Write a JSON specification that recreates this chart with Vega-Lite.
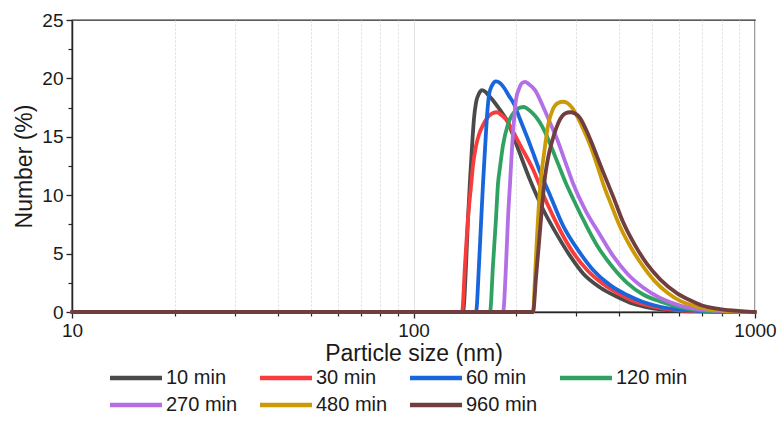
{
  "$schema": "https://vega.github.io/schema/vega-lite/v6.json",
  "autosize": "none",
  "width": 683,
  "height": 292,
  "padding": {"left": 72, "top": 20, "right": 24, "bottom": 128},
  "background": "white",
  "config": {
    "view": {"stroke": "#262626", "strokeWidth": 1.3},
    "font": "Liberation Sans",
    "axis": {"labelFont": "Liberation Sans", "titleFont": "Liberation Sans", "labelColor": "#1a1a1a", "titleColor": "#1a1a1a", "titleFontWeight": "normal", "domainColor": "#262626", "tickColor": "#262626", "domainWidth": 1.5, "tickWidth": 1.3},
    "legend": {"labelFont": "Liberation Sans"}
  },
  "datasets": {
    "psd": [
      {"t": "10 min", "d": 10, "n": 0}, {"t": "10 min", "d": 139.6, "n": 0}, {"t": "10 min", "d": 142.5, "n": 4}, {"t": "10 min", "d": 144.4, "n": 8}, {"t": "10 min", "d": 146.4, "n": 11.3}, {"t": "10 min", "d": 148.4, "n": 14.2}, {"t": "10 min", "d": 150.4, "n": 16.6}, {"t": "10 min", "d": 152.4, "n": 17.9}, {"t": "10 min", "d": 155.5, "n": 18.7}, {"t": "10 min", "d": 158.7, "n": 19.0}, {"t": "10 min", "d": 163.1, "n": 18.8}, {"t": "10 min", "d": 165.3, "n": 18.6}, {"t": "10 min", "d": 172.1, "n": 18.0}, {"t": "10 min", "d": 179.2, "n": 17.3}, {"t": "10 min", "d": 187.9, "n": 16.4}, {"t": "10 min", "d": 201.0, "n": 14.2}, {"t": "10 min", "d": 219.4, "n": 11.3}, {"t": "10 min", "d": 239.5, "n": 8.8}, {"t": "10 min", "d": 263.3, "n": 6.6}, {"t": "10 min", "d": 287.4, "n": 4.8}, {"t": "10 min", "d": 313.7, "n": 3.3}, {"t": "10 min", "d": 351.9, "n": 2.1}, {"t": "10 min", "d": 394.6, "n": 1.3}, {"t": "10 min", "d": 439.6, "n": 0.7}, {"t": "10 min", "d": 493.1, "n": 0.35}, {"t": "10 min", "d": 564.3, "n": 0.15}, {"t": "10 min", "d": 690.9, "n": 0.05}, {"t": "10 min", "d": 1000, "n": 0},

      {"t": "30 min", "d": 10, "n": 0}, {"t": "30 min", "d": 138.7, "n": 0}, {"t": "30 min", "d": 141.5, "n": 4}, {"t": "30 min", "d": 144.4, "n": 8}, {"t": "30 min", "d": 147.4, "n": 10.8}, {"t": "30 min", "d": 149.4, "n": 12.6}, {"t": "30 min", "d": 152.4, "n": 14.2}, {"t": "30 min", "d": 155.5, "n": 15.2}, {"t": "30 min", "d": 159.8, "n": 16.0}, {"t": "30 min", "d": 164.2, "n": 16.6}, {"t": "30 min", "d": 169.8, "n": 17.0}, {"t": "30 min", "d": 175.6, "n": 17.1}, {"t": "30 min", "d": 180.4, "n": 16.9}, {"t": "30 min", "d": 186.6, "n": 16.5}, {"t": "30 min", "d": 194.3, "n": 15.6}, {"t": "30 min", "d": 205.1, "n": 14.3}, {"t": "30 min", "d": 223.9, "n": 12.2}, {"t": "30 min", "d": 244.4, "n": 9.5}, {"t": "30 min", "d": 268.7, "n": 7.0}, {"t": "30 min", "d": 293.3, "n": 5.1}, {"t": "30 min", "d": 322.3, "n": 3.6}, {"t": "30 min", "d": 359.1, "n": 2.4}, {"t": "30 min", "d": 402.7, "n": 1.5}, {"t": "30 min", "d": 448.6, "n": 0.85}, {"t": "30 min", "d": 503.2, "n": 0.45}, {"t": "30 min", "d": 583.7, "n": 0.18}, {"t": "30 min", "d": 714.6, "n": 0.05}, {"t": "30 min", "d": 1000, "n": 0},

      {"t": "60 min", "d": 10, "n": 0}, {"t": "60 min", "d": 152.4, "n": 0}, {"t": "60 min", "d": 155.5, "n": 4}, {"t": "60 min", "d": 157.6, "n": 7.5}, {"t": "60 min", "d": 159.8, "n": 11}, {"t": "60 min", "d": 162.0, "n": 14}, {"t": "60 min", "d": 164.2, "n": 16.8}, {"t": "60 min", "d": 166.4, "n": 18.6}, {"t": "60 min", "d": 169.8, "n": 19.4}, {"t": "60 min", "d": 174.4, "n": 19.75}, {"t": "60 min", "d": 179.2, "n": 19.6}, {"t": "60 min", "d": 184.1, "n": 19.2}, {"t": "60 min", "d": 190.4, "n": 18.5}, {"t": "60 min", "d": 197.0, "n": 17.8}, {"t": "60 min", "d": 205.1, "n": 16.5}, {"t": "60 min", "d": 215.0, "n": 15.0}, {"t": "60 min", "d": 225.4, "n": 13.4}, {"t": "60 min", "d": 234.7, "n": 12.0}, {"t": "60 min", "d": 251.1, "n": 10.0}, {"t": "60 min", "d": 274.1, "n": 7.4}, {"t": "60 min", "d": 303.3, "n": 5.3}, {"t": "60 min", "d": 335.6, "n": 3.6}, {"t": "60 min", "d": 376.4, "n": 2.3}, {"t": "60 min", "d": 422.2, "n": 1.45}, {"t": "60 min", "d": 470.3, "n": 0.85}, {"t": "60 min", "d": 527.5, "n": 0.45}, {"t": "60 min", "d": 603.7, "n": 0.2}, {"t": "60 min", "d": 739.2, "n": 0.05}, {"t": "60 min", "d": 1000, "n": 0},

      {"t": "120 min", "d": 10, "n": 0}, {"t": "120 min", "d": 167.5, "n": 0}, {"t": "120 min", "d": 170.9, "n": 4}, {"t": "120 min", "d": 174.4, "n": 8}, {"t": "120 min", "d": 176.8, "n": 11.0}, {"t": "120 min", "d": 179.2, "n": 12.4}, {"t": "120 min", "d": 182.9, "n": 14.3}, {"t": "120 min", "d": 189.1, "n": 16.1}, {"t": "120 min", "d": 198.3, "n": 17.2}, {"t": "120 min", "d": 205.1, "n": 17.5}, {"t": "120 min", "d": 210.7, "n": 17.55}, {"t": "120 min", "d": 217.9, "n": 17.3}, {"t": "120 min", "d": 226.9, "n": 16.8}, {"t": "120 min", "d": 234.7, "n": 16.2}, {"t": "120 min", "d": 242.8, "n": 15.4}, {"t": "120 min", "d": 251.1, "n": 14.4}, {"t": "120 min", "d": 265.0, "n": 12.7}, {"t": "120 min", "d": 279.7, "n": 11.0}, {"t": "120 min", "d": 293.3, "n": 9.7}, {"t": "120 min", "d": 318.0, "n": 7.6}, {"t": "120 min", "d": 344.8, "n": 5.7}, {"t": "120 min", "d": 381.6, "n": 3.9}, {"t": "120 min", "d": 422.2, "n": 2.5}, {"t": "120 min", "d": 470.3, "n": 1.5}, {"t": "120 min", "d": 527.5, "n": 0.9}, {"t": "120 min", "d": 603.7, "n": 0.4}, {"t": "120 min", "d": 690.9, "n": 0.15}, {"t": "120 min", "d": 845.9, "n": 0.03}, {"t": "120 min", "d": 1000, "n": 0},

      {"t": "270 min", "d": 10, "n": 0}, {"t": "270 min", "d": 182.9, "n": 0}, {"t": "270 min", "d": 186.6, "n": 4}, {"t": "270 min", "d": 189.1, "n": 8}, {"t": "270 min", "d": 191.7, "n": 11}, {"t": "270 min", "d": 194.3, "n": 14}, {"t": "270 min", "d": 197.0, "n": 16.5}, {"t": "270 min", "d": 199.6, "n": 18.2}, {"t": "270 min", "d": 203.7, "n": 19.1}, {"t": "270 min", "d": 207.9, "n": 19.6}, {"t": "270 min", "d": 212.1, "n": 19.7}, {"t": "270 min", "d": 217.9, "n": 19.5}, {"t": "270 min", "d": 226.9, "n": 19.0}, {"t": "270 min", "d": 239.5, "n": 17.6}, {"t": "270 min", "d": 251.1, "n": 16.2}, {"t": "270 min", "d": 263.3, "n": 14.8}, {"t": "270 min", "d": 277.9, "n": 12.9}, {"t": "270 min", "d": 293.3, "n": 11.0}, {"t": "270 min", "d": 320.2, "n": 8.6}, {"t": "270 min", "d": 351.9, "n": 6.6}, {"t": "270 min", "d": 384.1, "n": 4.8}, {"t": "270 min", "d": 422.2, "n": 3.3}, {"t": "270 min", "d": 470.3, "n": 2.1}, {"t": "270 min", "d": 527.5, "n": 1.2}, {"t": "270 min", "d": 603.7, "n": 0.55}, {"t": "270 min", "d": 690.9, "n": 0.22}, {"t": "270 min", "d": 817.9, "n": 0.07}, {"t": "270 min", "d": 1000, "n": 0},

      {"t": "480 min", "d": 10, "n": 0}, {"t": "480 min", "d": 223.9, "n": 0}, {"t": "480 min", "d": 226.9, "n": 3}, {"t": "480 min", "d": 230.0, "n": 6.5}, {"t": "480 min", "d": 233.2, "n": 9.5}, {"t": "480 min", "d": 236.3, "n": 11.5}, {"t": "480 min", "d": 241.2, "n": 13.6}, {"t": "480 min", "d": 247.8, "n": 16.0}, {"t": "480 min", "d": 256.3, "n": 17.4}, {"t": "480 min", "d": 265.0, "n": 17.9}, {"t": "480 min", "d": 274.1, "n": 18.0}, {"t": "480 min", "d": 281.6, "n": 17.9}, {"t": "480 min", "d": 291.3, "n": 17.5}, {"t": "480 min", "d": 303.3, "n": 16.6}, {"t": "480 min", "d": 313.7, "n": 15.7}, {"t": "480 min", "d": 328.9, "n": 14.3}, {"t": "480 min", "d": 344.8, "n": 12.6}, {"t": "480 min", "d": 359.1, "n": 11.0}, {"t": "480 min", "d": 379.0, "n": 9.2}, {"t": "480 min", "d": 402.7, "n": 7.3}, {"t": "480 min", "d": 433.7, "n": 5.5}, {"t": "480 min", "d": 470.3, "n": 3.9}, {"t": "480 min", "d": 510.0, "n": 2.6}, {"t": "480 min", "d": 556.7, "n": 1.6}, {"t": "480 min", "d": 603.7, "n": 0.95}, {"t": "480 min", "d": 659.0, "n": 0.55}, {"t": "480 min", "d": 714.6, "n": 0.3}, {"t": "480 min", "d": 817.9, "n": 0.1}, {"t": "480 min", "d": 936.0, "n": 0.03}, {"t": "480 min", "d": 1000, "n": 0},

      {"t": "960 min", "d": 10, "n": 0}, {"t": "960 min", "d": 223.9, "n": 0}, {"t": "960 min", "d": 228.5, "n": 3}, {"t": "960 min", "d": 233.2, "n": 6}, {"t": "960 min", "d": 237.9, "n": 9}, {"t": "960 min", "d": 242.8, "n": 11.6}, {"t": "960 min", "d": 247.8, "n": 13.2}, {"t": "960 min", "d": 254.5, "n": 14.6}, {"t": "960 min", "d": 261.5, "n": 15.7}, {"t": "960 min", "d": 268.7, "n": 16.5}, {"t": "960 min", "d": 277.9, "n": 17.0}, {"t": "960 min", "d": 287.4, "n": 17.1}, {"t": "960 min", "d": 297.3, "n": 17.0}, {"t": "960 min", "d": 307.5, "n": 16.6}, {"t": "960 min", "d": 320.2, "n": 15.6}, {"t": "960 min", "d": 333.4, "n": 14.4}, {"t": "960 min", "d": 344.8, "n": 13.3}, {"t": "960 min", "d": 359.1, "n": 12.0}, {"t": "960 min", "d": 384.1, "n": 9.9}, {"t": "960 min", "d": 410.9, "n": 7.7}, {"t": "960 min", "d": 445.6, "n": 5.7}, {"t": "960 min", "d": 483.2, "n": 4.1}, {"t": "960 min", "d": 527.5, "n": 2.8}, {"t": "960 min", "d": 591.6, "n": 1.6}, {"t": "960 min", "d": 645.8, "n": 1.0}, {"t": "960 min", "d": 700.3, "n": 0.55}, {"t": "960 min", "d": 790.7, "n": 0.25}, {"t": "960 min", "d": 905.0, "n": 0.08}, {"t": "960 min", "d": 1000, "n": 0}
    ]
  },
  "data": {"name": "psd"},
  "resolve": {"axis": {"x": "independent", "y": "independent"}},
  "layer": [
    {
      "mark": {"type": "line", "opacity": 0, "interpolate": "monotone"},
      "encoding": {
        "x": {"field": "d", "type": "quantitative",
          "scale": {"type": "log", "domain": [10, 1000], "nice": false},
          "axis": {"orient": "bottom", "values": [20, 30, 40, 50, 60, 70, 80, 90, 200, 300, 400, 500, 600, 700, 800, 900],
            "labels": false, "title": null, "domain": false, "tickSize": 4, "tickWidth": 1.2,
            "grid": true, "gridColor": "#dcdcdc", "gridDash": [2, 2], "gridWidth": 1}},
        "y": {"field": "n", "type": "quantitative",
          "scale": {"domain": [0, 25], "nice": false},
          "axis": {"orient": "left", "values": [2.5, 7.5, 12.5, 17.5, 22.5], "labels": false, "title": null,
            "domain": false, "tickSize": 4, "tickWidth": 1.2, "grid": false}},
        "detail": {"field": "t"}
      }
    },
    {
      "mark": {"type": "line", "interpolate": "monotone", "strokeWidth": 3.8, "strokeCap": "round", "strokeJoin": "round"},
      "encoding": {
        "x": {"field": "d", "type": "quantitative",
          "scale": {"type": "log", "domain": [10, 1000], "nice": false},
          "axis": {"orient": "bottom", "values": [10, 100, 1000], "format": "d", "title": "Particle size (nm)",
            "labelFontSize": 19, "titleFontSize": 23, "tickSize": 6, "labelPadding": 3, "titlePadding": 2,
            "grid": true, "gridColor": "#e3e3e3", "gridWidth": 1, "labelFlush": false}},
        "y": {"field": "n", "type": "quantitative",
          "scale": {"domain": [0, 25], "nice": false},
          "axis": {"orient": "left", "values": [0, 5, 10, 15, 20, 25], "title": "Number (%)",
            "labelFontSize": 19, "titleFontSize": 23, "tickSize": 6, "labelPadding": 3, "titlePadding": 5, "grid": false}},
        "color": {"field": "t", "type": "nominal",
          "scale": {"domain": ["10 min", "30 min", "60 min", "120 min", "270 min", "480 min", "960 min"],
            "range": ["#4a4a4a", "#f83b3b", "#1766dc", "#2fa262", "#b46ee6", "#cc9a06", "#703e3e"]},
          "legend": {"orient": "none", "legendX": 54, "legendY": 348, "columns": 4, "direction": "horizontal", "title": null,
            "symbolType": "M-5.2,0H5.2", "symbolSize": 100, "symbolStrokeWidth": 4.5,
            "labelFontSize": 20, "labelColor": "#1a1a1a", "labelOffset": 20, "labelLimit": 200,
            "columnPadding": 13, "rowPadding": 7, "padding": 0}}
      }
    }
  ]
}
